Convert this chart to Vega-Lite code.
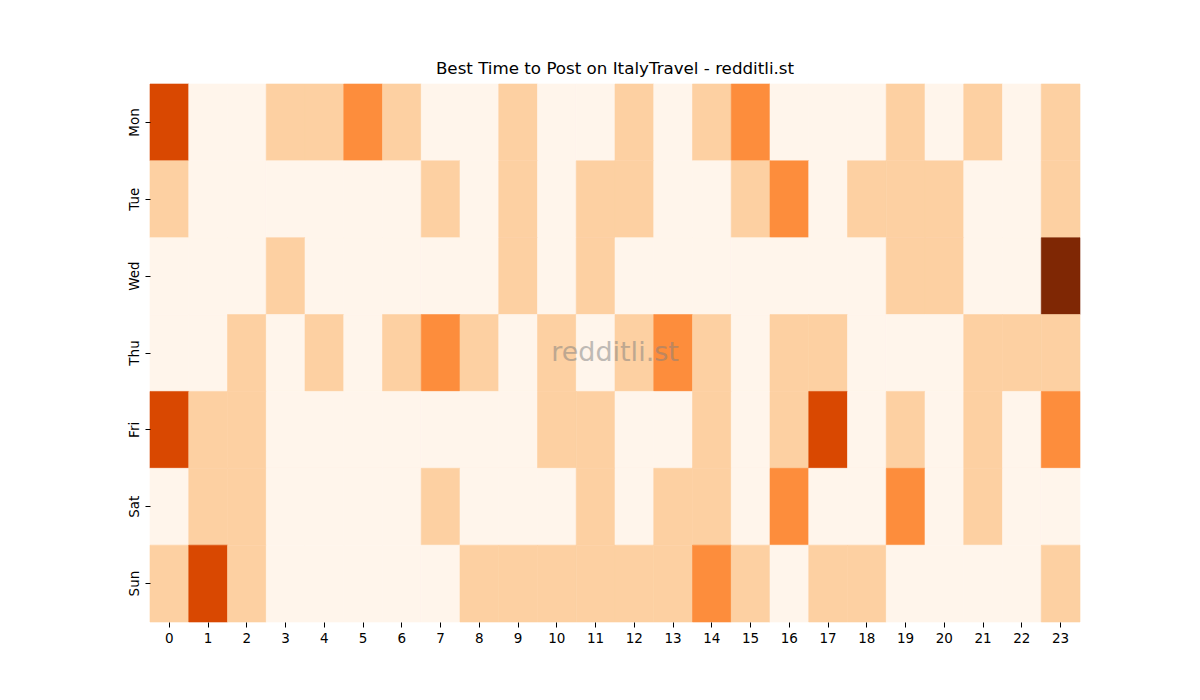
{
  "$schema": "https://vega.github.io/schema/vega-lite/v6.json",
  "width": 930,
  "height": 538,
  "autosize": "none",
  "padding": {"left": 150, "top": 84, "right": 120, "bottom": 78},
  "background": "white",
  "title": {
    "text": "Best Time to Post on ItalyTravel - redditli.st",
    "font": "DejaVu Sans",
    "fontSize": 16.7,
    "fontWeight": "normal",
    "color": "black",
    "offset": 6
  },
  "datasets": {
    "posts": [
      {"day": "Mon", "hour": 0, "level": 3}, {"day": "Mon", "hour": 1, "level": 0}, {"day": "Mon", "hour": 2, "level": 0}, {"day": "Mon", "hour": 3, "level": 1}, {"day": "Mon", "hour": 4, "level": 1}, {"day": "Mon", "hour": 5, "level": 2}, {"day": "Mon", "hour": 6, "level": 1}, {"day": "Mon", "hour": 7, "level": 0}, {"day": "Mon", "hour": 8, "level": 0}, {"day": "Mon", "hour": 9, "level": 1}, {"day": "Mon", "hour": 10, "level": 0}, {"day": "Mon", "hour": 11, "level": 0}, {"day": "Mon", "hour": 12, "level": 1}, {"day": "Mon", "hour": 13, "level": 0}, {"day": "Mon", "hour": 14, "level": 1}, {"day": "Mon", "hour": 15, "level": 2}, {"day": "Mon", "hour": 16, "level": 0}, {"day": "Mon", "hour": 17, "level": 0}, {"day": "Mon", "hour": 18, "level": 0}, {"day": "Mon", "hour": 19, "level": 1}, {"day": "Mon", "hour": 20, "level": 0}, {"day": "Mon", "hour": 21, "level": 1}, {"day": "Mon", "hour": 22, "level": 0}, {"day": "Mon", "hour": 23, "level": 1},
      {"day": "Tue", "hour": 0, "level": 1}, {"day": "Tue", "hour": 1, "level": 0}, {"day": "Tue", "hour": 2, "level": 0}, {"day": "Tue", "hour": 3, "level": 0}, {"day": "Tue", "hour": 4, "level": 0}, {"day": "Tue", "hour": 5, "level": 0}, {"day": "Tue", "hour": 6, "level": 0}, {"day": "Tue", "hour": 7, "level": 1}, {"day": "Tue", "hour": 8, "level": 0}, {"day": "Tue", "hour": 9, "level": 1}, {"day": "Tue", "hour": 10, "level": 0}, {"day": "Tue", "hour": 11, "level": 1}, {"day": "Tue", "hour": 12, "level": 1}, {"day": "Tue", "hour": 13, "level": 0}, {"day": "Tue", "hour": 14, "level": 0}, {"day": "Tue", "hour": 15, "level": 1}, {"day": "Tue", "hour": 16, "level": 2}, {"day": "Tue", "hour": 17, "level": 0}, {"day": "Tue", "hour": 18, "level": 1}, {"day": "Tue", "hour": 19, "level": 1}, {"day": "Tue", "hour": 20, "level": 1}, {"day": "Tue", "hour": 21, "level": 0}, {"day": "Tue", "hour": 22, "level": 0}, {"day": "Tue", "hour": 23, "level": 1},
      {"day": "Wed", "hour": 0, "level": 0}, {"day": "Wed", "hour": 1, "level": 0}, {"day": "Wed", "hour": 2, "level": 0}, {"day": "Wed", "hour": 3, "level": 1}, {"day": "Wed", "hour": 4, "level": 0}, {"day": "Wed", "hour": 5, "level": 0}, {"day": "Wed", "hour": 6, "level": 0}, {"day": "Wed", "hour": 7, "level": 0}, {"day": "Wed", "hour": 8, "level": 0}, {"day": "Wed", "hour": 9, "level": 1}, {"day": "Wed", "hour": 10, "level": 0}, {"day": "Wed", "hour": 11, "level": 1}, {"day": "Wed", "hour": 12, "level": 0}, {"day": "Wed", "hour": 13, "level": 0}, {"day": "Wed", "hour": 14, "level": 0}, {"day": "Wed", "hour": 15, "level": 0}, {"day": "Wed", "hour": 16, "level": 0}, {"day": "Wed", "hour": 17, "level": 0}, {"day": "Wed", "hour": 18, "level": 0}, {"day": "Wed", "hour": 19, "level": 1}, {"day": "Wed", "hour": 20, "level": 1}, {"day": "Wed", "hour": 21, "level": 0}, {"day": "Wed", "hour": 22, "level": 0}, {"day": "Wed", "hour": 23, "level": 4},
      {"day": "Thu", "hour": 0, "level": 0}, {"day": "Thu", "hour": 1, "level": 0}, {"day": "Thu", "hour": 2, "level": 1}, {"day": "Thu", "hour": 3, "level": 0}, {"day": "Thu", "hour": 4, "level": 1}, {"day": "Thu", "hour": 5, "level": 0}, {"day": "Thu", "hour": 6, "level": 1}, {"day": "Thu", "hour": 7, "level": 2}, {"day": "Thu", "hour": 8, "level": 1}, {"day": "Thu", "hour": 9, "level": 0}, {"day": "Thu", "hour": 10, "level": 1}, {"day": "Thu", "hour": 11, "level": 0}, {"day": "Thu", "hour": 12, "level": 1}, {"day": "Thu", "hour": 13, "level": 2}, {"day": "Thu", "hour": 14, "level": 1}, {"day": "Thu", "hour": 15, "level": 0}, {"day": "Thu", "hour": 16, "level": 1}, {"day": "Thu", "hour": 17, "level": 1}, {"day": "Thu", "hour": 18, "level": 0}, {"day": "Thu", "hour": 19, "level": 0}, {"day": "Thu", "hour": 20, "level": 0}, {"day": "Thu", "hour": 21, "level": 1}, {"day": "Thu", "hour": 22, "level": 1}, {"day": "Thu", "hour": 23, "level": 1},
      {"day": "Fri", "hour": 0, "level": 3}, {"day": "Fri", "hour": 1, "level": 1}, {"day": "Fri", "hour": 2, "level": 1}, {"day": "Fri", "hour": 3, "level": 0}, {"day": "Fri", "hour": 4, "level": 0}, {"day": "Fri", "hour": 5, "level": 0}, {"day": "Fri", "hour": 6, "level": 0}, {"day": "Fri", "hour": 7, "level": 0}, {"day": "Fri", "hour": 8, "level": 0}, {"day": "Fri", "hour": 9, "level": 0}, {"day": "Fri", "hour": 10, "level": 1}, {"day": "Fri", "hour": 11, "level": 1}, {"day": "Fri", "hour": 12, "level": 0}, {"day": "Fri", "hour": 13, "level": 0}, {"day": "Fri", "hour": 14, "level": 1}, {"day": "Fri", "hour": 15, "level": 0}, {"day": "Fri", "hour": 16, "level": 1}, {"day": "Fri", "hour": 17, "level": 3}, {"day": "Fri", "hour": 18, "level": 0}, {"day": "Fri", "hour": 19, "level": 1}, {"day": "Fri", "hour": 20, "level": 0}, {"day": "Fri", "hour": 21, "level": 1}, {"day": "Fri", "hour": 22, "level": 0}, {"day": "Fri", "hour": 23, "level": 2},
      {"day": "Sat", "hour": 0, "level": 0}, {"day": "Sat", "hour": 1, "level": 1}, {"day": "Sat", "hour": 2, "level": 1}, {"day": "Sat", "hour": 3, "level": 0}, {"day": "Sat", "hour": 4, "level": 0}, {"day": "Sat", "hour": 5, "level": 0}, {"day": "Sat", "hour": 6, "level": 0}, {"day": "Sat", "hour": 7, "level": 1}, {"day": "Sat", "hour": 8, "level": 0}, {"day": "Sat", "hour": 9, "level": 0}, {"day": "Sat", "hour": 10, "level": 0}, {"day": "Sat", "hour": 11, "level": 1}, {"day": "Sat", "hour": 12, "level": 0}, {"day": "Sat", "hour": 13, "level": 1}, {"day": "Sat", "hour": 14, "level": 1}, {"day": "Sat", "hour": 15, "level": 0}, {"day": "Sat", "hour": 16, "level": 2}, {"day": "Sat", "hour": 17, "level": 0}, {"day": "Sat", "hour": 18, "level": 0}, {"day": "Sat", "hour": 19, "level": 2}, {"day": "Sat", "hour": 20, "level": 0}, {"day": "Sat", "hour": 21, "level": 1}, {"day": "Sat", "hour": 22, "level": 0}, {"day": "Sat", "hour": 23, "level": 0},
      {"day": "Sun", "hour": 0, "level": 1}, {"day": "Sun", "hour": 1, "level": 3}, {"day": "Sun", "hour": 2, "level": 1}, {"day": "Sun", "hour": 3, "level": 0}, {"day": "Sun", "hour": 4, "level": 0}, {"day": "Sun", "hour": 5, "level": 0}, {"day": "Sun", "hour": 6, "level": 0}, {"day": "Sun", "hour": 7, "level": 0}, {"day": "Sun", "hour": 8, "level": 1}, {"day": "Sun", "hour": 9, "level": 1}, {"day": "Sun", "hour": 10, "level": 1}, {"day": "Sun", "hour": 11, "level": 1}, {"day": "Sun", "hour": 12, "level": 1}, {"day": "Sun", "hour": 13, "level": 1}, {"day": "Sun", "hour": 14, "level": 2}, {"day": "Sun", "hour": 15, "level": 1}, {"day": "Sun", "hour": 16, "level": 0}, {"day": "Sun", "hour": 17, "level": 1}, {"day": "Sun", "hour": 18, "level": 1}, {"day": "Sun", "hour": 19, "level": 0}, {"day": "Sun", "hour": 20, "level": 0}, {"day": "Sun", "hour": 21, "level": 0}, {"day": "Sun", "hour": 22, "level": 0}, {"day": "Sun", "hour": 23, "level": 1}
    ],
    "mark": [
      {"day": "Thu", "hour": 11, "label": "redditli.st"}
    ]
  },
  "encoding": {
    "x": {
      "field": "hour",
      "type": "ordinal",
      "sort": "ascending",
      "scale": {"domain": [0,1,2,3,4,5,6,7,8,9,10,11,12,13,14,15,16,17,18,19,20,21,22,23], "paddingInner": 0, "paddingOuter": 0},
      "axis": {
        "title": null,
        "labelAngle": 0,
        "labelFont": "DejaVu Sans",
        "labelFontSize": 13.5,
        "labelColor": "black",
        "labelPadding": 4,
        "tickColor": "black",
        "tickSize": 5,
        "domain": false
      }
    },
    "y": {
      "field": "day",
      "type": "ordinal",
      "scale": {"domain": ["Mon", "Tue", "Wed", "Thu", "Fri", "Sat", "Sun"], "paddingInner": 0, "paddingOuter": 0},
      "axis": {
        "title": null,
        "labelAngle": -90,
        "labelAlign": "center",
        "labelBaseline": "bottom",
        "labelFont": "DejaVu Sans",
        "labelFontSize": 13.5,
        "labelColor": "black",
        "labelPadding": 4,
        "tickColor": "black",
        "tickSize": 5,
        "domain": false
      }
    }
  },
  "layer": [
    {
      "data": {"name": "posts"},
      "mark": {"type": "rect", "strokeWidth": 0.6},
      "encoding": {
        "color": {
          "field": "level",
          "type": "ordinal",
          "scale": {"domain": [0, 1, 2, 3, 4], "range": ["#fff5eb", "#fdd0a2", "#fd8d3c", "#d94801", "#7f2704"]},
          "legend": null
        },
        "stroke": {
          "field": "level",
          "type": "ordinal",
          "scale": {"domain": [0, 1, 2, 3, 4], "range": ["#fff5eb", "#fdd0a2", "#fd8d3c", "#d94801", "#7f2704"]},
          "legend": null
        }
      }
    },
    {
      "data": {"name": "mark"},
      "mark": {"type": "text", "font": "DejaVu Sans", "fontSize": 27, "fill": "#808080", "opacity": 0.5, "align": "center", "baseline": "middle"},
      "encoding": {
        "x": {"field": "hour", "type": "ordinal", "bandPosition": 1},
        "text": {"field": "label"}
      }
    }
  ],
  "config": {"view": {"stroke": null}}
}
